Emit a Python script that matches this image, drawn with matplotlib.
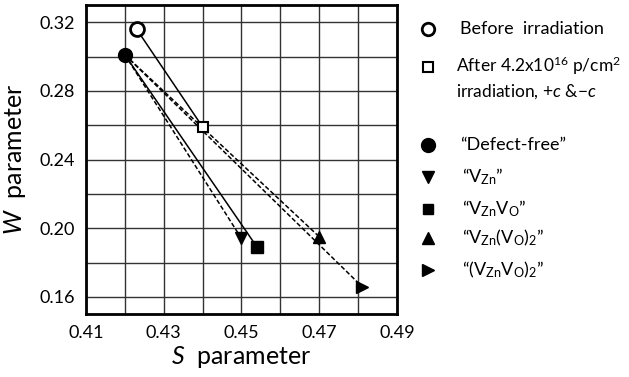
import matplotlib.pyplot as plt
from matplotlib.ticker import MultipleLocator, FuncFormatter

plt.rcParams['font.family'] = ['Lato', 'DejaVu Sans']
plt.rcParams['mathtext.fontset'] = 'custom'
plt.rcParams['mathtext.rm'] = 'Lato'
plt.rcParams['mathtext.it'] = 'Lato:italic'

# measured S-W points
before_s, before_w = 0.423, 0.316
after_s, after_w = 0.440, 0.259

defect_free = (0.420, 0.301)
model_names = ['V_Zn', 'V_ZnV_O', 'V_Zn(V_O)2', '(V_ZnV_O)2']
model_s = [0.450, 0.454, 0.470, 0.481]
model_w = [0.194, 0.189, 0.195, 0.166]
model_markers = ['v', 's', '^', '>']
model_sizes = [9, 8, 9, 9]
model_styles = ['--', '-', '--', '--']

fig = plt.figure(figsize=(6.29, 3.77), dpi=100)
ax = fig.add_axes([0.1367, 0.1671, 0.4944, 0.8196])

# lines from the defect-free state to each defect model
for s, w, ls in zip(model_s, model_w, model_styles):
    ax.plot([defect_free[0], s], [defect_free[1], w], color='black', lw=1.1,
            ls=ls, dashes=(3, 1.5) if ls == '--' else (None, None), zorder=3)
ax.plot([before_s, after_s], [before_w, after_w], color='black', lw=1.1, zorder=3)

ax.plot(before_s, before_w, 'o', ms=10, mfc='white', mec='black', mew=2, zorder=5)
ax.plot(after_s, after_w, 's', ms=7, mfc='white', mec='black', mew=1.5, zorder=5)
ax.plot(*defect_free, 'o', ms=10, color='black', zorder=5)
for s, w, m, ms in zip(model_s, model_w, model_markers, model_sizes):
    ax.plot(s, w, m, ms=ms, color='black', zorder=5)

ax.set_xlim(0.41, 0.49)
ax.set_ylim(0.15, 0.33)
ax.xaxis.set_major_locator(MultipleLocator(0.01))
ax.yaxis.set_major_locator(MultipleLocator(0.02))
ax.xaxis.set_major_formatter(FuncFormatter(
    lambda v, p: f'{v:.2f}' if round(v * 100) % 2 == 1 else ''))
ax.yaxis.set_major_formatter(FuncFormatter(
    lambda v, p: f'{v:.2f}' if round(v * 100) % 4 == 0 else ''))
ax.tick_params(length=0, labelsize=13, pad=8)
ax.grid(True, color='#333333', lw=1)
for sp in ax.spines.values():
    sp.set_linewidth(2)

ax.set_xlabel(r'$\it{S}$  parameter', fontsize=18, labelpad=2)
ax.set_ylabel(r'$\it{W}$  parameter', fontsize=18, labelpad=8)

# hand-placed legend on the right, in pixel coordinates
lg = fig.add_axes([0, 0, 1, 1], zorder=-1)
lg.set_xlim(0, 629)
lg.set_ylim(377, 0)
lg.axis('off')
mx, tx = 428, 460
fs = 13
lg.plot(mx, 29, 'o', ms=9, mfc='white', mec='black', mew=2)
lg.text(tx, 29, 'Before  irradiation', fontsize=fs, va='center')
lg.plot(mx, 67, 's', ms=6.5, mfc='white', mec='black', mew=1.5)
lg.text(tx - 4, 66, r'After 4.2x10$^{16}$ p/cm$^{2}$', fontsize=12.5, va='center')
lg.text(tx - 4, 92, r'irradiation, $\it{+c}$ &$-\it{c}$', fontsize=12.5, va='center')

lg.plot(mx, 145, 'o', ms=10, color='black')
lg.text(tx, 145, '\u201cDefect-free\u201d', fontsize=fs, va='center')
labels = ['\u201cV$_{\\rm Zn}$\u201d', '\u201cV$_{\\rm Zn}$V$_{\\rm O}$\u201d',
          '\u201cV$_{\\rm Zn}$(V$_{\\rm O}$)$_{2}$\u201d',
          '\u201c(V$_{\\rm Zn}$V$_{\\rm O}$)$_{2}$\u201d']
ys = [177, 209, 238, 270]
for y, lab, m, ms in zip(ys, labels, model_markers, model_sizes):
    lg.plot(mx, y, m, ms=ms - 1, color='black')
    lg.text(tx + 2, y, lab, fontsize=fs, va='center')

fig.savefig('out.png', dpi=100)
